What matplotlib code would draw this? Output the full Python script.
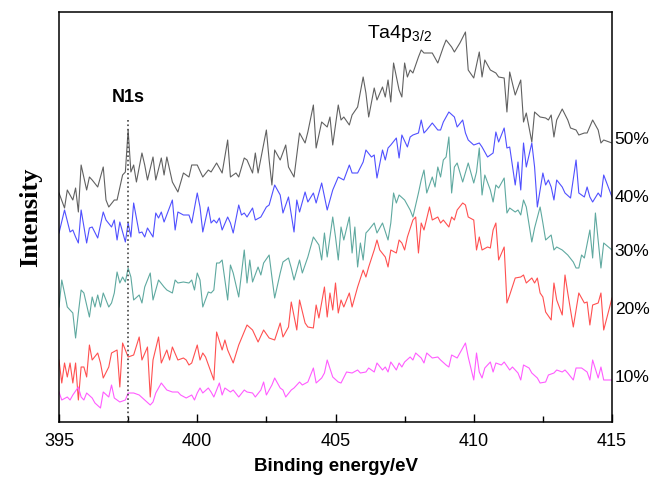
import matplotlib
matplotlib.use("Agg")
import matplotlib.pyplot as plt
from matplotlib.ticker import MultipleLocator

plt.rcParams['font.family'] = ['Liberation Sans', 'DejaVu Sans']
plt.rcParams['mathtext.fontset'] = 'custom'
plt.rcParams['mathtext.rm'] = 'Liberation Sans'

# XPS spectra, (binding energy eV, intensity a.u.)
n50 = [(395.0, 229), (395.2, 214), (395.3, 232), (395.5, 222), (395.6, 234), (395.7, 210), (395.8, 257), (396.0, 232), (396.1, 245), (396.2, 242),
       (396.4, 235), (396.6, 255), (396.7, 222), (396.8, 215), (397.0, 222), (397.1, 222), (397.3, 247), (397.4, 250), (397.5, 292), (397.6, 250),
       (397.7, 257), (397.8, 240), (398.0, 269), (398.1, 257), (398.2, 242), (398.4, 265), (398.5, 242), (398.7, 264), (398.8, 247), (398.9, 265),
       (399.1, 240), (399.3, 230), (399.5, 249), (399.7, 245), (399.8, 257), (400.0, 257), (400.2, 245), (400.4, 252), (400.5, 250), (400.7, 259),
       (400.9, 249), (401.1, 282), (401.2, 245), (401.4, 249), (401.5, 245), (401.7, 264), (401.8, 262), (402.0, 249), (402.1, 269), (402.2, 249),
       (402.5, 292), (402.6, 262), (402.7, 237), (402.8, 272), (403.0, 262), (403.2, 277), (403.3, 255), (403.5, 245), (403.7, 289), (403.9, 279),
       (404.0, 290), (404.2, 317), (404.3, 274), (404.5, 300), (404.7, 295), (404.8, 305), (404.9, 277), (405.1, 317), (405.2, 302), (405.3, 305),
       (405.5, 297), (405.6, 307), (405.8, 315), (406.0, 345), (406.1, 329), (406.2, 305), (406.4, 334), (406.5, 322), (406.7, 335), (406.8, 325),
       (406.9, 342), (407.0, 320), (407.1, 359), (407.3, 332), (407.4, 325), (407.5, 359), (407.6, 345), (407.7, 352), (407.8, 349), (408.0, 365),
       (408.1, 372), (408.2, 369), (408.3, 369), (408.5, 369), (408.7, 359), (408.9, 375), (409.0, 382), (409.2, 375), (409.3, 370), (409.5, 379),
       (409.7, 390), (409.8, 352), (410.0, 344), (410.2, 370), (410.3, 345), (410.4, 362), (410.6, 352), (410.8, 349), (410.9, 345), (411.1, 344),
       (411.2, 310), (411.3, 350), (411.5, 327), (411.7, 342), (411.8, 300), (411.9, 309), (412.1, 280), (412.2, 310), (412.4, 305), (412.6, 304),
       (412.7, 302), (412.8, 307), (412.9, 285), (413.0, 302), (413.2, 313), (413.4, 302), (413.5, 294), (413.7, 292), (413.8, 287), (414.0, 289),
       (414.1, 289), (414.3, 302), (414.5, 292), (414.6, 279), (414.7, 282), (415.0, 279)]

n40 = [(395.0, 189), (395.2, 212), (395.4, 190), (395.5, 192), (395.6, 185), (395.7, 179), (395.8, 212), (396.0, 179), (396.1, 194), (396.2, 195),
       (396.4, 184), (396.6, 210), (396.7, 202), (396.9, 195), (397.0, 202), (397.1, 182), (397.2, 200), (397.4, 180), (397.5, 199), (397.6, 185),
       (397.7, 219), (397.9, 189), (398.0, 190), (398.1, 185), (398.2, 194), (398.4, 185), (398.5, 209), (398.6, 204), (398.7, 210), (398.8, 200),
       (399.1, 222), (399.2, 192), (399.3, 210), (399.5, 207), (399.7, 207), (399.8, 199), (400.0, 229), (400.1, 215), (400.2, 190), (400.4, 215),
       (400.5, 199), (400.6, 202), (400.7, 199), (400.8, 204), (400.9, 192), (401.1, 205), (401.2, 199), (401.3, 189), (401.5, 217), (401.6, 207),
       (401.7, 209), (401.8, 205), (402.0, 214), (402.1, 202), (402.3, 205), (402.5, 215), (402.6, 217), (402.8, 237), (403.0, 227), (403.1, 209),
       (403.3, 225), (403.5, 190), (403.6, 222), (403.7, 210), (403.9, 230), (404.0, 220), (404.2, 229), (404.3, 219), (404.5, 239), (404.7, 212),
       (404.9, 232), (405.1, 245), (405.3, 242), (405.5, 257), (405.6, 249), (405.8, 249), (406.0, 260), (406.1, 272), (406.3, 265), (406.4, 267),
       (406.5, 244), (406.7, 272), (406.8, 262), (406.9, 274), (407.0, 277), (407.2, 284), (407.3, 264), (407.4, 287), (407.6, 275), (407.7, 285),
       (407.8, 287), (408.0, 289), (408.1, 302), (408.2, 289), (408.3, 292), (408.5, 299), (408.7, 292), (408.8, 292), (408.9, 300), (409.1, 310),
       (409.3, 305), (409.4, 295), (409.6, 302), (409.7, 289), (409.8, 282), (410.0, 277), (410.2, 279), (410.3, 275), (410.5, 265), (410.7, 269),
       (410.8, 290), (410.9, 280), (411.1, 294), (411.2, 274), (411.3, 275), (411.5, 237), (411.6, 260), (411.7, 232), (411.8, 279), (411.9, 255),
       (412.1, 279), (412.2, 255), (412.3, 215), (412.5, 249), (412.6, 237), (412.7, 242), (412.8, 235), (412.9, 222), (413.0, 242), (413.2, 235),
       (413.3, 229), (413.5, 224), (413.7, 262), (413.8, 229), (414.0, 225), (414.1, 235), (414.2, 225), (414.3, 220), (414.5, 229), (414.6, 225),
       (414.7, 247), (415.0, 225)]

n30 = [(395.0, 115), (395.1, 142), (395.2, 129), (395.3, 115), (395.5, 109), (395.6, 84), (395.7, 109), (395.8, 132), (395.9, 129), (396.1, 105),
       (396.2, 125), (396.3, 115), (396.4, 127), (396.5, 115), (396.6, 129), (396.8, 115), (396.9, 119), (397.0, 129), (397.1, 150), (397.2, 139),
       (397.3, 145), (397.4, 140), (397.5, 154), (397.6, 145), (397.7, 122), (397.9, 127), (398.0, 119), (398.1, 135), (398.3, 149), (398.4, 122),
       (398.6, 142), (398.8, 135), (398.9, 132), (399.1, 129), (399.2, 142), (399.3, 139), (399.5, 140), (399.7, 139), (399.8, 142), (399.9, 132),
       (400.0, 149), (400.1, 142), (400.2, 115), (400.4, 130), (400.5, 129), (400.6, 132), (400.7, 159), (400.8, 159), (400.9, 162), (401.1, 122),
       (401.2, 157), (401.3, 149), (401.5, 125), (401.7, 172), (401.8, 139), (401.9, 162), (402.0, 140), (402.2, 155), (402.3, 147), (402.4, 159),
       (402.6, 167), (402.7, 145), (402.8, 124), (403.0, 149), (403.1, 160), (403.3, 164), (403.4, 154), (403.5, 142), (403.7, 162), (403.8, 149),
       (404.0, 165), (404.2, 185), (404.4, 177), (404.5, 162), (404.6, 189), (404.7, 165), (404.9, 205), (405.0, 185), (405.1, 162), (405.2, 195),
       (405.3, 182), (405.5, 205), (405.6, 169), (405.7, 195), (405.8, 155), (405.9, 179), (406.0, 162), (406.1, 189), (406.2, 192), (406.4, 199),
       (406.5, 189), (406.7, 199), (406.9, 182), (407.0, 199), (407.1, 229), (407.2, 219), (407.3, 227), (407.5, 222), (407.7, 212), (407.8, 205),
       (408.0, 229), (408.1, 242), (408.2, 252), (408.3, 229), (408.5, 245), (408.6, 235), (408.7, 255), (408.8, 245), (408.9, 262), (409.0, 265),
       (409.1, 285), (409.2, 229), (409.3, 255), (409.4, 259), (409.6, 240), (409.8, 259), (410.0, 239), (410.1, 250), (410.2, 274), (410.3, 227),
       (410.4, 247), (410.6, 232), (410.7, 220), (410.8, 237), (410.9, 234), (411.1, 244), (411.2, 209), (411.3, 214), (411.5, 210), (411.6, 212),
       (411.7, 207), (411.8, 222), (411.9, 215), (412.1, 180), (412.2, 194), (412.4, 215), (412.5, 199), (412.6, 182), (412.8, 187), (412.9, 172),
       (413.0, 175), (413.2, 172), (413.4, 167), (413.6, 160), (413.7, 154), (413.8, 154), (413.9, 167), (414.0, 164), (414.2, 192), (414.3, 164),
       (414.4, 209), (414.6, 154), (414.7, 179), (415.0, 172)]

n20 = [(395.0, 62), (395.1, 39), (395.2, 59), (395.3, 45), (395.4, 59), (395.5, 39), (395.6, 59), (395.7, 22), (395.8, 55), (395.9, 55),
       (396.0, 45), (396.1, 77), (396.2, 62), (396.4, 69), (396.5, 59), (396.6, 44), (396.8, 55), (396.9, 69), (397.1, 72), (397.2, 35),
       (397.3, 79), (397.5, 65), (397.7, 67), (397.9, 85), (398.0, 62), (398.2, 75), (398.3, 25), (398.4, 62), (398.6, 85), (398.7, 59),
       (398.9, 72), (399.0, 62), (399.1, 75), (399.3, 62), (399.5, 64), (399.6, 62), (399.7, 57), (399.8, 59), (400.0, 77), (400.1, 62),
       (400.2, 69), (400.3, 65), (400.6, 42), (400.7, 90), (400.9, 72), (401.0, 82), (401.1, 72), (401.3, 59), (401.5, 77), (401.8, 97),
       (402.0, 92), (402.2, 80), (402.4, 92), (402.6, 84), (402.8, 82), (403.0, 99), (403.1, 85), (403.3, 95), (403.4, 120), (403.6, 92),
       (403.7, 122), (403.9, 99), (404.0, 95), (404.2, 94), (404.3, 117), (404.4, 104), (404.6, 135), (404.7, 105), (404.8, 129), (404.9, 112),
       (405.0, 139), (405.1, 109), (405.2, 122), (405.3, 115), (405.5, 129), (405.6, 115), (405.7, 125), (405.8, 135), (406.0, 152), (406.1, 145),
       (406.2, 155), (406.4, 172), (406.5, 182), (406.6, 172), (406.8, 165), (406.9, 155), (407.0, 172), (407.2, 169), (407.3, 182), (407.4, 179),
       (407.5, 172), (407.6, 185), (407.8, 202), (407.9, 205), (408.0, 169), (408.1, 199), (408.2, 192), (408.4, 215), (408.5, 202), (408.7, 205),
       (408.8, 199), (408.9, 202), (409.1, 195), (409.2, 205), (409.3, 202), (409.4, 212), (409.6, 219), (409.7, 217), (409.8, 205), (410.0, 202),
       (410.1, 172), (410.2, 185), (410.3, 172), (410.5, 175), (410.6, 174), (410.7, 192), (410.8, 199), (410.9, 162), (411.1, 175), (411.2, 119),
       (411.3, 127), (411.5, 144), (411.7, 145), (411.8, 147), (411.9, 139), (412.1, 144), (412.2, 139), (412.3, 144), (412.4, 129), (412.5, 125),
       (412.6, 110), (412.8, 102), (412.9, 139), (413.0, 122), (413.2, 107), (413.3, 147), (413.4, 129), (413.6, 95), (413.8, 129), (414.0, 119),
       (414.1, 120), (414.2, 97), (414.3, 117), (414.5, 119), (414.6, 129), (414.7, 92), (415.0, 124)]

n10 = [(395.0, 30), (395.1, 22), (395.3, 25), (395.4, 22), (395.5, 27), (395.7, 35), (395.8, 25), (395.9, 22), (396.0, 29), (396.2, 24),
       (396.3, 19), (396.5, 14), (396.6, 30), (396.8, 25), (396.9, 37), (397.0, 24), (397.2, 20), (397.4, 22), (397.5, 29), (397.7, 29),
       (397.9, 27), (398.1, 22), (398.3, 17), (398.4, 20), (398.5, 29), (398.7, 39), (398.9, 32), (399.1, 30), (399.3, 30), (399.4, 27),
       (399.6, 24), (399.8, 27), (399.9, 22), (400.0, 29), (400.1, 34), (400.2, 29), (400.4, 34), (400.5, 30), (400.6, 25), (400.8, 39),
       (400.9, 27), (401.0, 34), (401.2, 30), (401.3, 32), (401.5, 25), (401.7, 32), (401.8, 30), (402.0, 29), (402.1, 25), (402.3, 32),
       (402.4, 40), (402.5, 27), (402.7, 37), (402.8, 44), (403.0, 34), (403.1, 32), (403.2, 25), (403.4, 32), (403.5, 34), (403.7, 40),
       (403.8, 37), (404.0, 40), (404.1, 47), (404.2, 54), (404.3, 39), (404.5, 44), (404.6, 49), (404.7, 62), (404.9, 45), (405.1, 40),
       (405.2, 39), (405.4, 50), (405.6, 49), (405.8, 52), (405.9, 49), (406.1, 50), (406.2, 54), (406.4, 50), (406.5, 59), (406.7, 52),
       (406.8, 55), (406.9, 50), (407.0, 60), (407.2, 52), (407.3, 59), (407.4, 55), (407.5, 60), (407.7, 65), (407.8, 62), (407.9, 69),
       (408.1, 64), (408.2, 59), (408.3, 69), (408.5, 64), (408.7, 65), (408.8, 62), (409.0, 57), (409.1, 55), (409.2, 67), (409.4, 64),
       (409.5, 69), (409.7, 79), (409.8, 65), (410.0, 42), (410.1, 69), (410.2, 50), (410.3, 44), (410.4, 54), (410.6, 60), (410.7, 50),
       (410.8, 59), (411.0, 57), (411.1, 60), (411.3, 52), (411.4, 55), (411.6, 49), (411.7, 42), (411.8, 57), (412.0, 54), (412.1, 49),
       (412.3, 44), (412.4, 39), (412.6, 40), (412.7, 47), (412.9, 49), (413.0, 52), (413.2, 50), (413.3, 52), (413.4, 49), (413.6, 42),
       (413.7, 54), (413.9, 54), (414.1, 50), (414.2, 42), (414.3, 62), (414.5, 44), (414.6, 55), (414.7, 42), (415.0, 42)]

series = [(n50, "#616161", "50%", 282), (n40, "#5050ff", "40%", 225),
          (n30, "#5fa9a0", "30%", 170), (n20, "#ff5050", "20%", 112),
          (n10, "#ff5cff", "10%", 45)]

fig = plt.figure(figsize=(6.56, 4.83), dpi=100)
ax = fig.add_axes([59 / 656, 61 / 483, 553 / 656, 410 / 483])

for data, color, label, ylab in series:
    x = [p[0] for p in data]
    y = [p[1] for p in data]
    ax.plot(x, y, color=color, linewidth=0.8)
    ax.text(415.1, ylab, label, fontsize=12.5, ha="left", va="center", clip_on=False,
            family=["Liberation Sans", "DejaVu Sans"])

ax.axvline(397.5, ymin=0, ymax=304 / 410, color="#444444", linestyle=":", linewidth=1.2)
ax.text(397.5, 325, "N1s", fontsize=13, fontweight="bold", ha="center", va="center")
ax.text(407.3, 388, r"Ta4p$_{\mathrm{3/2}}$", fontsize=14, ha="center", va="center")

ax.set_xlim(395, 415)
ax.set_ylim(0, 410)
ax.xaxis.set_major_locator(MultipleLocator(5))
ax.xaxis.set_minor_locator(MultipleLocator(2.5))
ax.tick_params(axis="x", which="major", direction="in", length=6, width=1, labelsize=13, pad=8)
ax.tick_params(axis="x", which="minor", direction="in", length=4, width=1)
ax.set_yticks([])
for sp in ax.spines.values():
    sp.set_linewidth(1.1)

ax.set_xlabel("Binding energy/eV", fontsize=13.5, fontweight="bold", labelpad=6)
ax.set_ylabel("Intensity", fontsize=19, fontweight="bold", family=["Liberation Serif", "DejaVu Serif"], labelpad=12)

fig.savefig("out.png", dpi=100)
